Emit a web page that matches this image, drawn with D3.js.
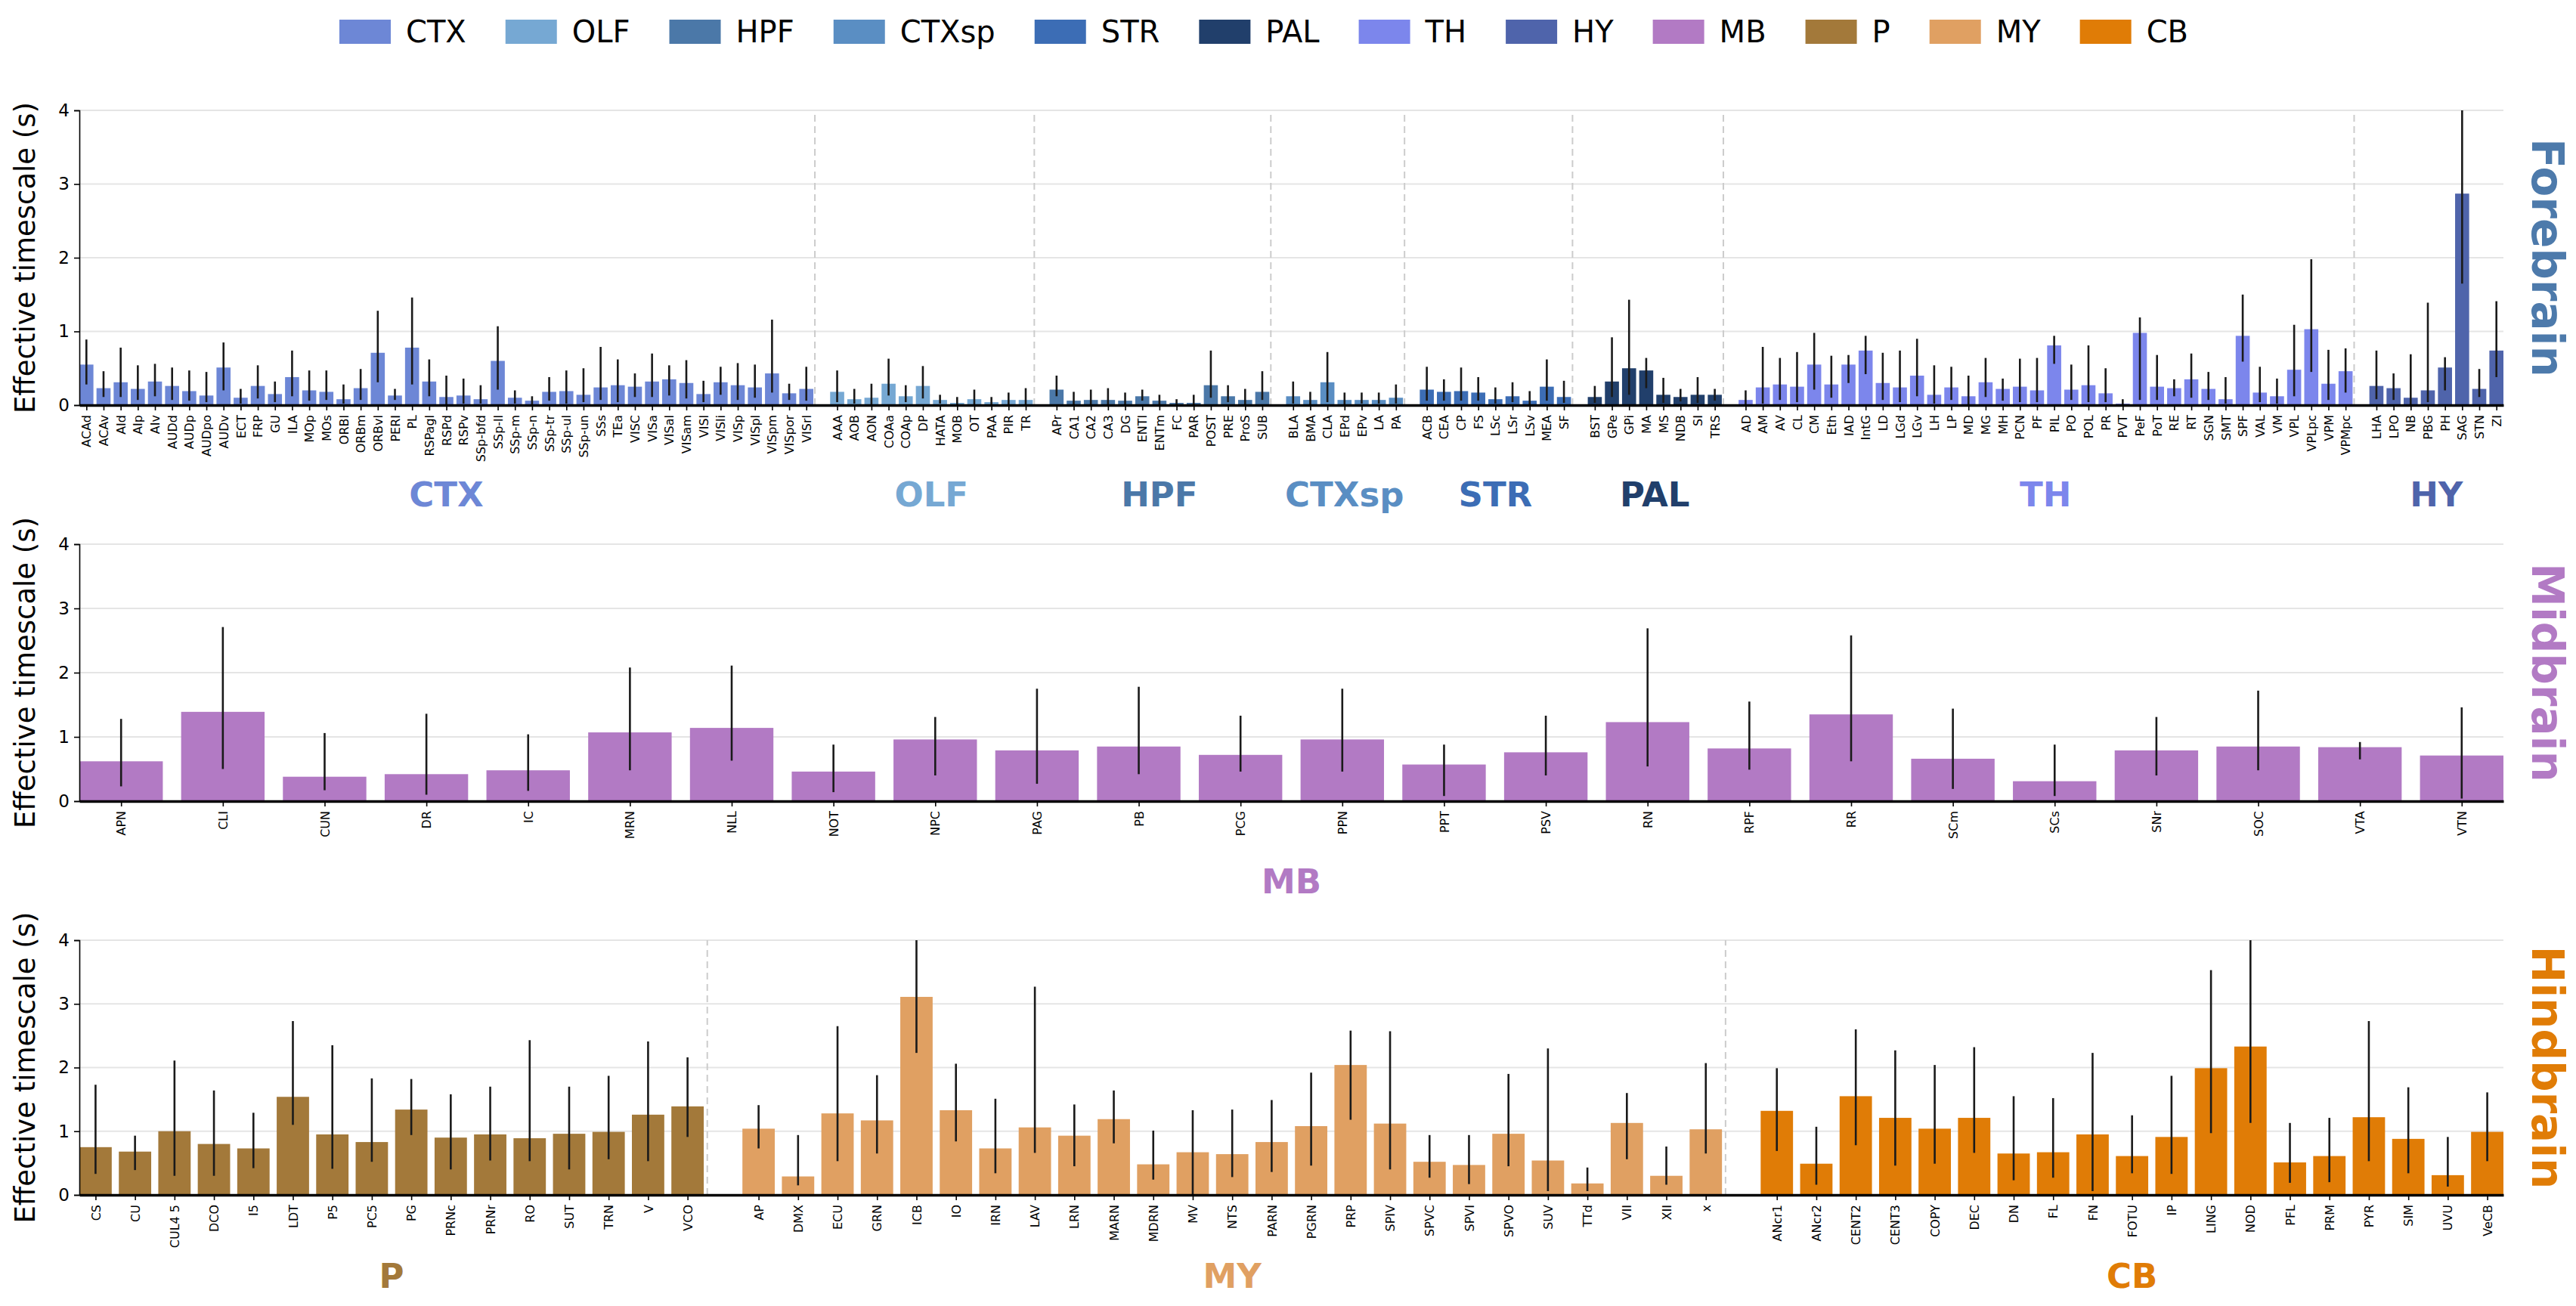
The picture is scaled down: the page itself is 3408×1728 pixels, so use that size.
<!DOCTYPE html>
<html>
<head>
<meta charset="utf-8">
<script src="https://cdn.jsdelivr.net/npm/d3@7"></script>
<style>
body { margin: 0; background: #fff; }
text { font-family: "DejaVu Sans", sans-serif; }
</style>
</head>
<body>
<script>
// ---- group colours ----
var groupNames = ["CTX", "OLF", "HPF", "CTXsp", "STR", "PAL", "TH", "HY", "MB", "P", "MY", "CB"];
var groupColors = ["#6D87D6", "#76A8D3", "#4B78A8", "#5A8EC3", "#3C6DB5", "#213F6B", "#7C86EC", "#4F64AB", "#B27AC4", "#A3793A", "#E0A062", "#E07C06"];

// ---- Forebrain ----
var ctxNames = ["ACAd","ACAv","AId","AIp","AIv","AUDd","AUDp","AUDpo","AUDv","ECT","FRP","GU","ILA","MOp","MOs","ORBl","ORBm","ORBvl","PERI","PL","RSPagl","RSPd","RSPv","SSp-bfd","SSp-ll","SSp-m","SSp-n","SSp-tr","SSp-ul","SSp-un","SSs","TEa","VISC","VISa","VISal","VISam","VISl","VISli","VISp","VISpl","VISpm","VISpor","VISrl"];
var ctxVals = [.55,.23,.31,.22,.32,.26,.19,.13,.51,.10,.26,.15,.38,.20,.18,.08,.23,.71,.13,.78,.32,.11,.13,.08,.60,.10,.06,.18,.19,.14,.24,.27,.25,.32,.35,.30,.15,.31,.27,.24,.43,.16,.22];
var ctxLo = [.28,.11,.11,.07,.12,.07,.06,.04,.20,.02,.09,.04,.12,.06,.07,.02,.07,.31,.07,.28,.12,.00,.02,.02,.21,.02,.01,.06,.02,.04,.07,.04,.11,.11,.13,.09,.04,.14,.07,.10,.17,.07,.06];
var ctxHi = [.89,.46,.78,.54,.56,.51,.47,.45,.85,.22,.54,.32,.74,.47,.47,.28,.49,1.28,.22,1.46,.62,.40,.36,.27,1.07,.20,.12,.38,.47,.50,.79,.62,.43,.70,.54,.61,.33,.52,.57,.55,1.16,.29,.52];

var olfNames = ["AAA","AOB","AON","COAa","COAp","DP","HATA","MOB","OT","PAA","PIR","TR"];
var olfVals = [.18,.08,.10,.29,.12,.26,.07,.03,.08,.04,.07,.07];
var olfLo = [.04,.02,.01,.13,.04,.09,.02,.01,.01,.01,.01,.00];
var olfHi = [.47,.22,.29,.63,.27,.53,.14,.11,.21,.11,.17,.23];

var hpfNames = ["APr","CA1","CA2","CA3","DG","ENTl","ENTm","FC","PAR","POST","PRE","ProS","SUB"];
var hpfVals = [.21,.06,.07,.07,.06,.12,.06,.03,.03,.27,.12,.07,.18];
var hpfLo = [.12,.01,.01,.00,.01,.06,.01,.01,.01,.10,.04,.01,.07];
var hpfHi = [.40,.18,.21,.23,.17,.21,.14,.08,.14,.74,.27,.22,.46];

var ctxspNames = ["BLA","BMA","CLA","EPd","EPv","LA","PA"];
var ctxspVals = [.12,.07,.31,.07,.07,.07,.10];
var ctxspLo = [.02,.01,.04,.01,.02,.02,.02];
var ctxspHi = [.32,.18,.72,.17,.17,.17,.28];

var strNames = ["ACB","CEA","CP","FS","LSc","LSr","LSv","MEA","SF"];
var strVals = [.21,.18,.19,.17,.08,.12,.06,.25,.11];
var strLo = [.06,.06,.06,.06,.02,.04,.01,.06,.03];
var strHi = [.52,.35,.51,.38,.24,.31,.19,.62,.33];

var palNames = ["BST","GPe","GPi","MA","MS","NDB","SI","TRS"];
var palVals = [.11,.32,.50,.47,.14,.11,.14,.14];
var palLo = [.03,.11,.14,.23,.03,.05,.03,.06];
var palHi = [.26,.92,1.43,.64,.37,.22,.38,.22];

var thNames = ["AD","AM","AV","CL","CM","Eth","IAD","IntG","LD","LGd","LGv","LH","LP","MD","MG","MH","PCN","PF","PIL","PO","POL","PR","PVT","PeF","PoT","RE","RT","SGN","SMT","SPF","VAL","VM","VPL","VPLpc","VPM","VPMpc"];
var thVals = [.07,.24,.28,.25,.55,.28,.55,.74,.30,.24,.40,.14,.24,.12,.31,.22,.25,.20,.81,.21,.27,.16,.02,.98,.25,.23,.35,.22,.08,.94,.17,.12,.48,1.03,.29,.46];
var thLo = [.00,.02,.07,.04,.21,.10,.30,.42,.07,.04,.12,.02,.07,.01,.11,.06,.04,.04,.56,.07,.04,.04,.01,.07,.07,.12,.10,.07,.02,.59,.04,.02,.12,.45,.07,.17];
var thHi = [.20,.79,.64,.72,.98,.67,.68,.94,.71,.74,.90,.54,.52,.40,.64,.36,.63,.64,.94,.55,.81,.50,.08,1.19,.68,.35,.70,.45,.38,1.50,.52,.36,1.09,1.98,.75,.77];

var hyNames = ["LHA","LPO","NB","PBG","PH","SAG","STN","ZI"];
var hyVals = [.26,.23,.10,.20,.51,2.87,.22,.74];
var hyLo = [.08,.07,.00,.04,.20,1.65,.11,.38];
var hyHi = [.74,.43,.69,1.39,.65,4.30,.49,1.41];

// ---- Midbrain ----
var mbNames = ["APN","CLI","CUN","DR","IC","MRN","NLL","NOT","NPC","PAG","PB","PCG","PPN","PPT","PSV","RN","RPF","RR","SCm","SCs","SNr","SOC","VTA","VTN"];
var mbVals = [.62,1.39,.38,.42,.48,1.07,1.14,.46,.96,.79,.85,.72,.96,.57,.76,1.23,.82,1.35,.66,.31,.79,.85,.84,.71];
var mbLo = [.23,.50,.17,.10,.16,.48,.63,.14,.40,.27,.42,.46,.46,.08,.40,.54,.49,.62,.19,.08,.40,.48,.65,.04];
var mbHi = [1.28,2.71,1.06,1.36,1.04,2.08,2.11,.88,1.31,1.75,1.78,1.33,1.75,.88,1.33,2.69,1.55,2.58,1.44,.88,1.31,1.72,.92,1.46];

// ---- Hindbrain ----
var pNames = ["CS","CU","CUL4 5","DCO","I5","LDT","P5","PC5","PG","PRNc","PRNr","RO","SUT","TRN","V","VCO"];
var pVals = [.75,.68,1.00,.80,.73,1.54,.95,.83,1.34,.90,.95,.89,.96,.99,1.26,1.39];
var pLo = [.33,.39,.30,.30,.42,1.10,.41,.52,.94,.40,.54,.53,.40,.56,.53,.91];
var pHi = [1.73,.93,2.11,1.64,1.29,2.73,2.35,1.83,1.82,1.58,1.70,2.43,1.70,1.87,2.41,2.16];

var myNames = ["AP","DMX","ECU","GRN","ICB","IO","IRN","LAV","LRN","MARN","MDRN","MV","NTS","PARN","PGRN","PRP","SPIV","SPVC","SPVI","SPVO","SUV","TTd","VII","XII","x"];
var myVals = [1.04,.29,1.28,1.17,3.11,1.33,.73,1.06,.93,1.19,.48,.67,.64,.83,1.08,2.04,1.12,.52,.47,.96,.54,.18,1.13,.30,1.03];
var myLo = [.73,.15,.53,.65,2.23,.84,.34,.66,.45,.81,.24,.00,.28,.36,.46,1.18,.40,.27,.17,.45,.06,.06,.56,.16,.65];
var myHi = [1.41,.94,2.65,1.88,4.20,2.06,1.51,3.27,1.42,1.64,1.01,1.33,1.34,1.49,1.92,2.58,2.57,.94,.94,1.90,2.30,.43,1.60,.76,2.07];

var cbNames = ["ANcr1","ANcr2","CENT2","CENT3","COPY","DEC","DN","FL","FN","FOTU","IP","LING","NOD","PFL","PRM","PYR","SIM","UVU","VeCB"];
var cbVals = [1.32,.49,1.55,1.21,1.04,1.21,.65,.67,.95,.61,.91,1.99,2.33,.51,.61,1.22,.88,.31,.99];
var cbLo = [.69,.16,.78,.46,.49,.66,.23,.27,.06,.34,.33,.97,1.13,.19,.20,.53,.34,.13,.53];
var cbHi = [1.99,1.07,2.60,2.27,2.04,2.32,1.55,1.52,2.23,1.25,1.87,3.53,4.30,1.13,1.21,2.73,1.69,.91,1.61];

var yTicks = [0, 1, 2, 3, 4];

function grp(name, names, vals, lo, hi) {
	return {name: name, color: groupColors[groupNames.indexOf(name)], names: names, vals: vals, lo: lo, hi: hi};
}

var panels = [
	{title: "Forebrain", titleColor: "#4D7AAB", top: 146, bottom: 536, labelY: 654,
	 groups: [grp("CTX", ctxNames, ctxVals, ctxLo, ctxHi), grp("OLF", olfNames, olfVals, olfLo, olfHi),
		grp("HPF", hpfNames, hpfVals, hpfLo, hpfHi), grp("CTXsp", ctxspNames, ctxspVals, ctxspLo, ctxspHi),
		grp("STR", strNames, strVals, strLo, strHi), grp("PAL", palNames, palVals, palLo, palHi),
		grp("TH", thNames, thVals, thLo, thHi), grp("HY", hyNames, hyVals, hyLo, hyHi)]},
	{title: "Midbrain", titleColor: "#B27AC4", top: 720, bottom: 1060, labelY: 1166,
	 groups: [grp("MB", mbNames, mbVals, mbLo, mbHi)]},
	{title: "Hindbrain", titleColor: "#E07C06", top: 1244, bottom: 1581, labelY: 1688,
	 groups: [grp("P", pNames, pVals, pLo, pHi), grp("MY", myNames, myVals, myLo, myHi), grp("CB", cbNames, cbVals, cbLo, cbHi)]}
];

var W = 3408, H = 1728;
var left = 105, right = 3312;
var gapExtra = 0.8, barW = 0.82;

var svg = d3.select("body").append("svg")
	.attr("width", W)
	.attr("height", H)
	.attr("viewBox", "0 0 " + W + " " + H);

panels.forEach(function(p, pi) {
	// bar positions with a gap between groups
	var bars = [], seps = [], centers = [];
	var pos = 0;
	p.groups.forEach(function(g, gi) {
		var start = pos;
		g.names.forEach(function(n, i) {
			bars.push({pos: pos, name: n, v: g.vals[i], lo: g.lo[i], hi: g.hi[i], color: g.color});
			pos += 1;
		});
		var last = pos - 1;
		centers.push({name: g.name, color: g.color, pos: (start + last) / 2});
		if (gi < p.groups.length - 1) seps.push(last + 0.5);
		pos = last + 1 + gapExtra;
	});
	var lastPos = bars[bars.length - 1].pos;

	var x = d3.scaleLinear().domain([-barW / 2, lastPos + barW / 2]).range([left, right]);
	var y = d3.scaleLinear().domain([0, 4]).range([p.bottom, p.top]);
	var bw = x(barW) - x(0);

	var g = svg.append("g");

	g.append("clipPath").attr("id", "clip" + pi)
		.append("rect").attr("x", left - 5).attr("y", p.top).attr("width", right - left + 10).attr("height", p.bottom - p.top);

	// grid
	g.selectAll(".grid").data(yTicks.slice(1)).enter().append("line")
		.attr("x1", left).attr("x2", right)
		.attr("y1", d => y(d)).attr("y2", d => y(d))
		.attr("stroke", "#e5e5e5").attr("stroke-width", 2);

	// group separators
	g.selectAll(".sep").data(seps).enter().append("line")
		.attr("x1", d => x(d)).attr("x2", d => x(d))
		.attr("y1", y(0)).attr("y2", y(4))
		.attr("stroke", "#cccccc").attr("stroke-width", 2)
		.attr("stroke-dasharray", "9,6");

	// bars
	g.selectAll(".bar").data(bars).enter().append("rect")
		.attr("x", d => x(d.pos) - bw / 2)
		.attr("width", bw)
		.attr("y", d => y(d.v))
		.attr("height", d => y(0) - y(d.v))
		.attr("fill", d => d.color);

	// error bars
	g.append("g").attr("clip-path", "url(#clip" + pi + ")")
		.selectAll("line").data(bars).enter().append("line")
		.attr("x1", d => x(d.pos)).attr("x2", d => x(d.pos))
		.attr("y1", d => y(d.lo)).attr("y2", d => y(d.hi))
		.attr("stroke", "#1a1a1a").attr("stroke-width", 2.6);

	// y axis
	var ya = g.append("g").attr("transform", "translate(" + left + ",0)")
		.call(d3.axisLeft(y).tickValues(yTicks).tickFormat(d3.format("d")).tickSize(7).tickPadding(6));
	ya.select(".domain").attr("stroke", "#000").attr("stroke-width", 1.6);
	ya.selectAll(".tick line").attr("stroke", "#000").attr("stroke-width", 1.6);
	ya.selectAll(".tick text").attr("font-size", 23).attr("font-family", "DejaVu Sans").attr("fill", "#000");

	// x axis
	var xa = g.append("g").attr("transform", "translate(0," + p.bottom + ")")
		.call(d3.axisBottom(x).tickValues(bars.map(d => d.pos))
			.tickFormat((d, i) => bars[i].name).tickSize(7).tickSizeOuter(0));
	xa.select(".domain").attr("stroke", "#000").attr("stroke-width", 3.5);
	xa.selectAll(".tick line").attr("stroke", "#000").attr("stroke-width", 1.6);
	xa.selectAll(".tick text")
		.attr("font-size", 16).attr("font-family", "DejaVu Sans").attr("fill", "#000")
		.attr("text-anchor", "end")
		.attr("transform", "rotate(-90)")
		.attr("x", -13).attr("y", 0).attr("dy", "0.35em");

	// y label
	svg.append("text")
		.attr("transform", "translate(33," + (p.top + p.bottom) / 2 + ") rotate(-90)")
		.attr("text-anchor", "middle").attr("dominant-baseline", "central")
		.attr("font-size", 37).attr("fill", "#000")
		.text("Effective timescale (s)");

	// group labels
	g.selectAll(".glab").data(centers).enter().append("text")
		.attr("x", d => x(d.pos)).attr("y", p.labelY)
		.attr("text-anchor", "middle").attr("dominant-baseline", "central")
		.attr("font-size", 45).attr("font-weight", "bold")
		.attr("fill", d => d.color)
		.text(d => d.name);

	// panel title on the right
	svg.append("text")
		.attr("transform", "translate(3370," + (p.top + p.bottom) / 2 + ") rotate(90)")
		.attr("text-anchor", "middle").attr("dominant-baseline", "central")
		.attr("font-size", 58).attr("font-weight", "bold")
		.attr("fill", p.titleColor)
		.text(p.title);
});

// legend
var leg = svg.append("g");
var lx = 0;
groupNames.forEach(function(n, i) {
	var it = leg.append("g").attr("transform", "translate(" + lx + ",0)");
	it.append("rect").attr("x", 0).attr("y", -16).attr("width", 68).attr("height", 32).attr("fill", groupColors[i]);
	var t = it.append("text").attr("x", 88).attr("y", 0).attr("dominant-baseline", "central")
		.attr("font-size", 40).attr("fill", "#000").text(n);
	lx += 88 + t.node().getComputedTextLength() + 52;
});
lx -= 52;
leg.attr("transform", "translate(" + (1672 - lx / 2) + ",42)");
</script>
</body>
</html>
